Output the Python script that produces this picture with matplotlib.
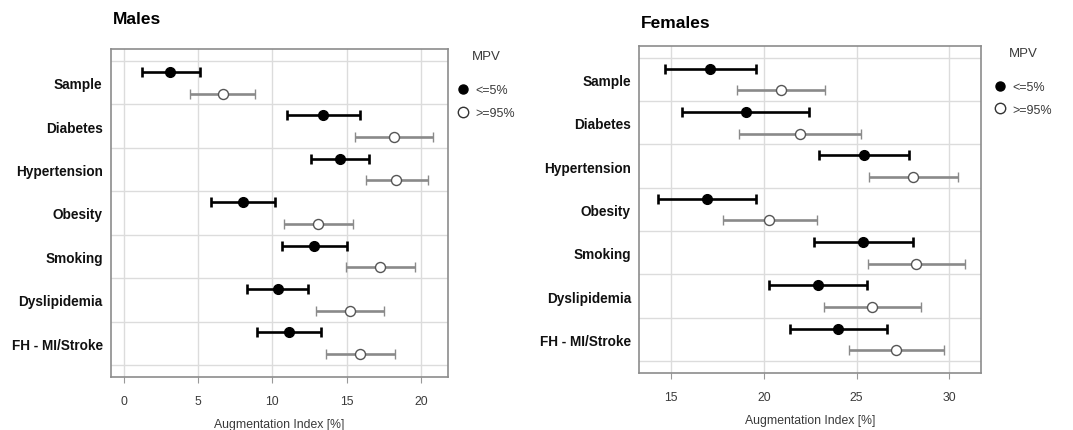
import numpy as np
import matplotlib
matplotlib.use("Agg")
import matplotlib.pyplot as plt
from matplotlib.lines import Line2D

plt.rcParams['font.family'] = ['Liberation Sans', 'DejaVu Sans']

categories = ["Sample", "Diabetes", "Hypertension", "Obesity", "Smoking",
              "Dyslipidemia", "FH - MI/Stroke"]

# males: mean, lower, upper for MPV <=5% and >=95%
m_low = [3.14, 13.41, 14.53, 8.0, 12.78, 10.36, 11.1]
m_low_lo = [1.23, 10.99, 12.62, 5.85, 10.67, 8.32, 8.97]
m_low_hi = [5.11, 15.92, 16.48, 10.16, 15.02, 12.42, 13.27]
m_high = [6.66, 18.18, 18.32, 13.09, 17.22, 15.2, 15.9]
m_high_lo = [4.48, 15.58, 16.26, 10.81, 14.93, 12.96, 13.59]
m_high_hi = [8.86, 20.81, 20.43, 15.43, 19.6, 17.49, 18.25]

# females
f_low = [17.12, 19.04, 25.38, 16.92, 25.36, 22.9, 24.0]
f_low_lo = [14.69, 15.61, 22.96, 14.28, 22.71, 20.3, 21.41]
f_low_hi = [19.6, 22.45, 27.84, 19.56, 28.06, 25.54, 26.62]
f_high = [20.91, 21.95, 28.06, 20.3, 28.2, 25.85, 27.14]
f_high_lo = [18.54, 18.68, 25.69, 17.78, 25.63, 23.25, 24.57]
f_high_hi = [23.32, 25.24, 30.47, 22.85, 30.84, 28.45, 29.71]

text_col = "#3a3a3a"
grid_col = "#dcdcdc"

fig = plt.figure(figsize=(10.73, 4.31), dpi=100)


def panel(rect, title, title_xy, low, low_lo, low_hi, high, high_lo, high_hi,
          xlim, xticks, leg_x):
    ax = fig.add_axes(rect)
    y = np.arange(len(categories))
    low = np.array(low); high = np.array(high)
    ax.errorbar(low, y - 0.25,
                xerr=[low - np.array(low_lo), np.array(low_hi) - low],
                fmt="o", color="black", ecolor="black", elinewidth=1.9,
                capsize=3.6, capthick=1.9, markersize=7, zorder=3)
    ax.errorbar(high, y + 0.25,
                xerr=[high - np.array(high_lo), np.array(high_hi) - high],
                fmt="o", color="#8a8a8a", ecolor="#8a8a8a", elinewidth=1.9,
                capsize=3.6, capthick=1.9, markersize=7.2,
                markerfacecolor="white", markeredgecolor="#555555",
                markeredgewidth=1.0, zorder=3)
    ax.set_xlim(*xlim)
    ax.set_ylim(6.5 + 0.277, -0.5 - 0.277)
    ax.set_xticks(xticks)
    ax.set_yticks(y)
    ax.set_yticklabels(categories, fontsize=9.8, fontweight="bold",
                       color="#111111")
    ax.set_yticks(np.arange(-0.5, 7), minor=True)
    ax.tick_params(axis="y", which="both", length=0, pad=6)
    ax.tick_params(axis="x", length=4, color="#999999", labelsize=8.8,
                   labelcolor=text_col, pad=9)
    ax.grid(axis="x", color=grid_col, linewidth=1.0, zorder=0)
    ax.grid(axis="y", which="minor", color=grid_col, linewidth=1.0, zorder=0)
    ax.set_axisbelow(True)
    for s in ax.spines.values():
        s.set_color("#8c8c8c")
        s.set_linewidth(1.2)
    ax.set_xlabel("Augmentation Index [%]", fontsize=8.8, color=text_col,
                  labelpad=8)
    fig.text(title_xy[0], title_xy[1], title, fontsize=12.5,
             fontweight="bold", va="center", ha="left")
    handles = [Line2D([], [], marker="o", linestyle="none", color="black",
                      markersize=6.5),
               Line2D([], [], marker="o", linestyle="none",
                      markerfacecolor="white", markeredgecolor="#333333",
                      markersize=7.5, markeredgewidth=1.0)]
    leg = ax.legend(handles, ["<=5%", ">=95%"], title="MPV",
                    loc="upper left", bbox_to_anchor=(leg_x, 1.0),
                    frameon=False, fontsize=9, title_fontsize=9.5,
                    handlelength=0.8, handletextpad=0.6, labelspacing=0.85,
                    borderaxespad=0.0, borderpad=0.1)
    for t in leg.get_texts():
        t.set_color(text_col)
    leg.get_title().set_color(text_col)
    leg._legend_box.sep = 16
    return ax


panel([111 / 1073, 1 - 378 / 431, 337 / 1073, 328 / 431], "Males",
      (113 / 1073, 1 - 19 / 431),
      m_low, m_low_lo, m_low_hi, m_high, m_high_lo, m_high_hi,
      (-0.84, 21.8), [0, 5, 10, 15, 20], 1.025)
panel([639.3 / 1073, 1 - 374 / 431, 341.7 / 1073, 327.3 / 431], "Females",
      (641 / 1073, 1 - 23 / 431),
      f_low, f_low_lo, f_low_hi, f_high, f_high_lo, f_high_hi,
      (13.29, 31.71), [15, 20, 25, 30], 1.037)

fig.savefig("out.png", dpi=100)
